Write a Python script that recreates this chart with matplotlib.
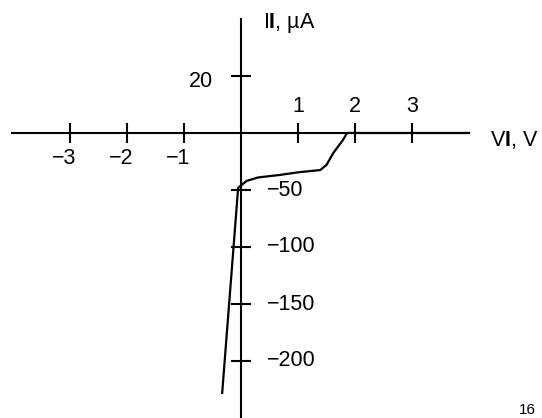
import numpy as np
from matplotlib import pyplot as plt

plt.rcParams['font.family'] = ['Liberation Sans', 'DejaVu Sans']
plt.rcParams['mathtext.fontset'] = 'custom'
plt.rcParams['mathtext.rm'] = 'Liberation Sans'
plt.rcParams['mathtext.bf'] = 'Liberation Sans:bold'

# input characteristic
v_in = [-0.33, -0.05, 0.0, 0.1, 0.3, 0.68, 1.0, 1.39, 1.5, 1.62, 1.79, 1.86, 4.0]  # V
i_in = [-228, -48, -46, -42, -39, -36.8, -34.5, -32.5, -28, -17.5, -6, 0, 0]  # uA

x_ticks = [-3, -2, -1, 1, 2, 3]
y_ticks = [20, -50, -100, -150, -200]


def fwd(y):
    # datasheet scale: 20 uA per division above zero, 50 uA per division below
    y = np.asarray(y, dtype=float)
    return np.where(y >= 0, y / 20.0, y / 50.0)


def inv(u):
    u = np.asarray(u, dtype=float)
    return np.where(u >= 0, u * 20.0, u * 50.0)


fig = plt.figure(figsize=(5.42, 4.18), dpi=100)
ax = fig.add_axes([0, 0, 1, 1])
ax.set_yscale('function', functions=(fwd, inv))

px = 57.0  # pixels per division
ax.set_xlim(-241 / px, (542 - 241) / px)
ax.set_ylim(inv(-(418 - 133) / px), inv(133 / px))

for s in ['top', 'right']:
    ax.spines[s].set_visible(False)
ax.spines['left'].set_position(('data', 0))
ax.spines['bottom'].set_position(('data', 0))
ax.spines['bottom'].set_bounds(-4.02, 4.0)
ax.spines['left'].set_bounds(-260, 40)
for s in ['left', 'bottom']:
    ax.spines[s].set_linewidth(1.5)

ax.set_xticks(x_ticks)
ax.set_yticks(y_ticks)
ax.tick_params(direction='inout', length=15, width=1.5, labelbottom=False, labelleft=False)
ax.minorticks_off()

ax.plot(v_in, i_in, color='black', lw=1.6, solid_joinstyle='round')

fs = 15.5
for v in x_ticks:
    if v > 0:
        ax.annotate(str(v), xy=(v, 0), xytext=(0, 19), textcoords='offset points',
                    ha='center', va='center', fontsize=fs)
    else:
        ax.annotate('\u2212' + str(-v), xy=(v, 0), xytext=(4.5, -18), textcoords='offset points',
                    ha='right', va='center', fontsize=fs)
for i in y_ticks:
    if i > 0:
        ax.annotate(str(i), xy=(0, i), xytext=(-20, -4), textcoords='offset points',
                    ha='right', va='center', fontsize=fs)
    else:
        ax.annotate('\u2212' + str(-i), xy=(0, i), xytext=(18.5, 0), textcoords='offset points',
                    ha='left', va='center', fontsize=fs)

ax.annotate('I$\\mathbf{I}$, \u00b5A', xy=(0, 0), xycoords='data',
            xytext=(263, 418 - 23), textcoords='figure pixels', ha='left', va='center', fontsize=fs)
ax.annotate('V$\\mathbf{I}$, V', xy=(0, 0), xycoords='data',
            xytext=(490, 418 - 140), textcoords='figure pixels', ha='left', va='center', fontsize=fs)

fig.text(519 / 542, 1 / 418, '16', ha='left', va='bottom', fontsize=11)

fig.savefig('out.png', dpi=100)
